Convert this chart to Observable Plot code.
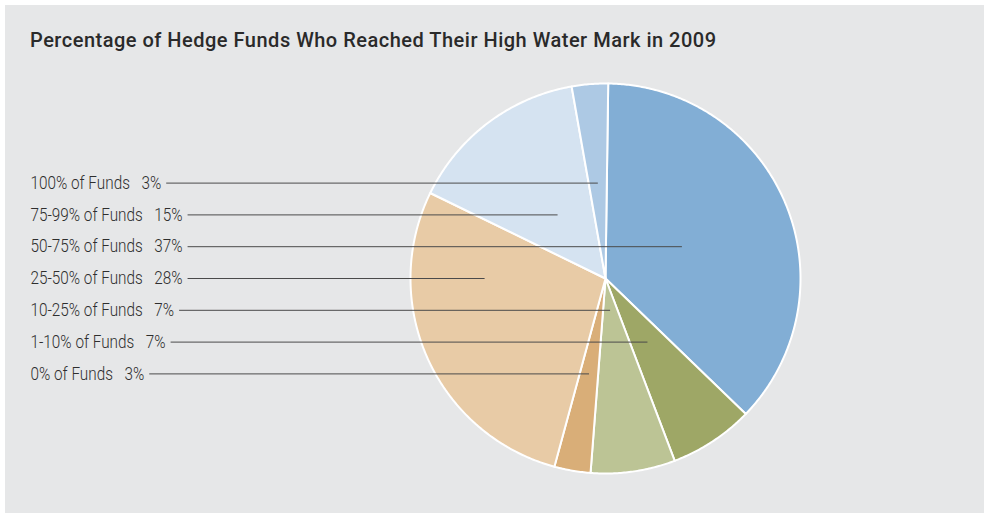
<!DOCTYPE html>
<html><head><meta charset="utf-8">
<script src="https://cdn.jsdelivr.net/npm/d3@7"></script>
<script src="https://cdn.jsdelivr.net/npm/@observablehq/plot@0.6"></script>
<style>
html,body{margin:0;padding:0;background:#ffffff;}
#panel{position:absolute;left:5px;top:5px;width:979px;height:508px;background:#e6e7e8;overflow:hidden;}
#title{position:absolute;left:25px;top:25px;font-family:Roboto,"Noto Sans",sans-serif;font-weight:500;font-size:20px;letter-spacing:0.5px;line-height:1;color:#2a2a2a;white-space:nowrap;}
#chart{position:absolute;left:0;top:60px;}
</style></head><body>
<div id="panel"><div id="title">Percentage of Hedge Funds Who Reached Their High Water Mark in 2009</div><div id="chart"></div></div>
<script>
// Legend order (top to bottom)
const categories = ["100%", "75-99%", "50-75%", "25-50%", "10-25%", "1-10%", "0%"];
const shares = [3, 15, 37, 28, 7, 7, 3];
const colors = ["#adc9e4", "#d5e3f1", "#82aed5", "#e8cba6", "#bcc495", "#9ea766", "#d9ae78"];
// Slice order clockwise from 12 o'clock
const sliceOrder = ["50-75%", "1-10%", "10-25%", "0%", "25-50%", "75-99%", "100%"];

// layout
const W = 979, H = 448;
const cx = 600, cy = 213, R = 195;      // pie centre and radius in px
const startDeg = 0.8;
const labelLeft = 25, rowStep = 31.8, gap = 5;
const labelFont = {family: 'Roboto,"Noto Sans",sans-serif', size: 18, weight: 300};
const condense = 0.85;

const xDomain = [-cx / R, (W - cx) / R];
const yDomain = [-(H - cy) / R, cy / R];

// slices
const total = d3.sum(shares);
const shareOf = k => shares[categories.indexOf(k)];
let acc = startDeg;
const sliceInfo = sliceOrder.map(k => {
  const a0 = acc, a1 = acc + shareOf(k) / total * 360;
  acc = a1;
  return {key: k, a0, a1, mid: (a0 + a1) / 2};
});
const pts = [];
for (const s of sliceInfo) {
  pts.push({key: s.key, x: 0, y: 0});
  const n = Math.max(2, Math.ceil((s.a1 - s.a0) / 0.5));
  for (let i = 0; i <= n; i++) {
    const a = (s.a0 + (s.a1 - s.a0) * i / n) * Math.PI / 180;
    pts.push({key: s.key, x: Math.sin(a), y: Math.cos(a)});
  }
}

// labels
const ctx = document.createElement("canvas").getContext("2d");
ctx.font = `${labelFont.weight} ${labelFont.size}px ${labelFont.family}`;
const rows = categories.map((k, i) => {
  const text = `${k} of Funds\u00a0\u2002${shares[i]}%`;
  const y = (3 - i) * rowStep / R;
  const xText = (labelLeft - cx) / R;
  const wpx = ctx.measureText(text).width * condense;
  const s = sliceInfo.find(d => d.key === k);
  const m = s.mid * Math.PI / 180;
  const dx = Math.sin(m), dy = Math.cos(m);
  let xEnd;
  if (Math.abs(y) < 0.05) xEnd = 0.62 * Math.sign(dx);
  else xEnd = y / dy * dx;
  return {key: k, text, y, xText, wpx, x1: xText + (wpx + gap) / R, x2: xEnd};
});

const chart = Plot.plot({
  width: W, height: H,
  margin: 0,
  x: {domain: xDomain, axis: null},
  y: {domain: yDomain, axis: null},
  color: {domain: categories, range: colors},
  style: {background: "transparent", overflow: "visible"},
  marks: [
    Plot.line(pts, {x: "x", y: "y", z: "key", fill: "key", stroke: "white", strokeWidth: 2, strokeLinejoin: "round", curve: "linear-closed"}),
    Plot.link(rows, {x1: "x1", y1: "y", x2: "x2", y2: "y", stroke: "#4a4a4a", strokeWidth: 1}),
    Plot.text(rows, {x: "xText", y: "y", text: "text", textAnchor: "start", fill: "#2e2e2e",
      fontFamily: labelFont.family, fontSize: labelFont.size, fontWeight: labelFont.weight,
      className: "lbl"})
  ]
});
// condensed look: squeeze label glyphs to the narrower set width
chart.querySelectorAll("g.lbl text").forEach((t, i) => {
  t.setAttribute("textLength", rows[i].wpx);
  t.setAttribute("lengthAdjust", "spacingAndGlyphs");
});
document.getElementById("chart").appendChild(chart);
</script>
</body></html>
